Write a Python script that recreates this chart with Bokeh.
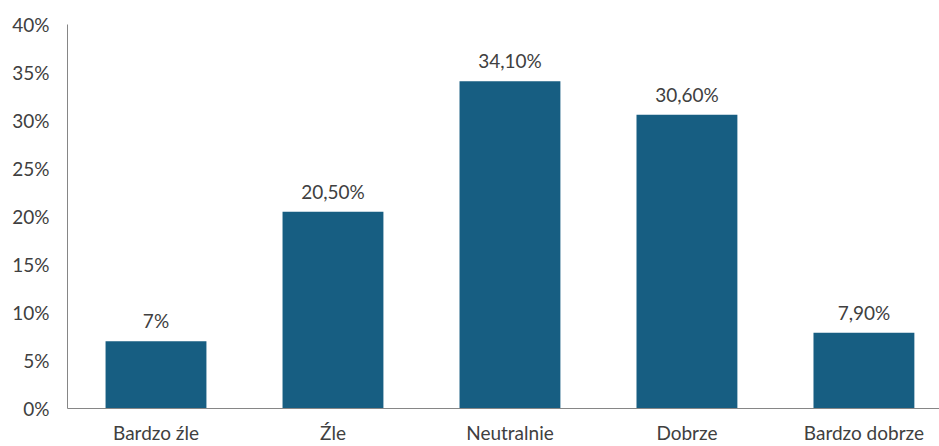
from bokeh.plotting import figure
from bokeh.models import ColumnDataSource, FixedTicker, Range1d, LabelSet
from bokeh.core.properties import value
from bokeh.embed import file_html
from bokeh.resources import INLINE

categories = ["Bardzo źle", "Źle", "Neutralnie", "Dobrze", "Bardzo dobrze"]
shares = [7.0, 20.5, 34.1, 30.6, 7.9]
share_labels = ["7%", "20,50%", "34,10%", "30,60%", "7,90%"]
y_ticks = [0, 5, 10, 15, 20, 25, 30, 35, 40]
y_tick_labels = ["0%", "5%", "10%", "15%", "20%", "25%", "30%", "35%", "40%"]

FONT = "Lato"
FONT_SIZE = "19px"
TEXT = "#404040"
BAR = "#175E82"

xs = list(range(len(categories)))
src = ColumnDataSource(dict(x=xs, top=shares, label=share_labels))

p = figure(width=939, height=446, output_backend="svg", toolbar_location=None,
           x_range=Range1d(-0.5, 4.427), y_range=Range1d(0, 40),
           min_border_left=67, min_border_right=0, min_border_top=24, min_border_bottom=36)
p.outline_line_color = None
p.background_fill_color = "white"
p.border_fill_color = "white"
p.xgrid.grid_line_color = None
p.ygrid.grid_line_color = None

p.vbar(x="x", top="top", width=0.57, bottom=0, source=src, fill_color=BAR, line_color=None)

labels = LabelSet(x="x", y="top", text="label", source=src, text_align="center",
                  text_baseline="bottom", y_offset=9, text_font=value(FONT),
                  text_font_size=value(FONT_SIZE), text_color=TEXT)
p.add_layout(labels)

p.xaxis.ticker = FixedTicker(ticks=xs)
p.xaxis.major_label_overrides = {i: c for i, c in enumerate(categories)}
p.yaxis.ticker = FixedTicker(ticks=y_ticks)
p.yaxis.major_label_overrides = {t: l for t, l in zip(y_ticks, y_tick_labels)}

for ax in (p.xaxis, p.yaxis):
    ax.axis_line_color = "#868686"
    ax.axis_line_width = 1
    ax.major_tick_line_color = None
    ax.minor_tick_line_color = None
    ax.major_tick_out = 0
    ax.major_tick_in = 0
    ax.major_label_text_font = FONT
    ax.major_label_text_font_size = FONT_SIZE
    ax.major_label_text_color = TEXT
p.yaxis.major_label_standoff = 18
p.xaxis.major_label_standoff = 12

open("out.html", "w").write(file_html(p, INLINE))
